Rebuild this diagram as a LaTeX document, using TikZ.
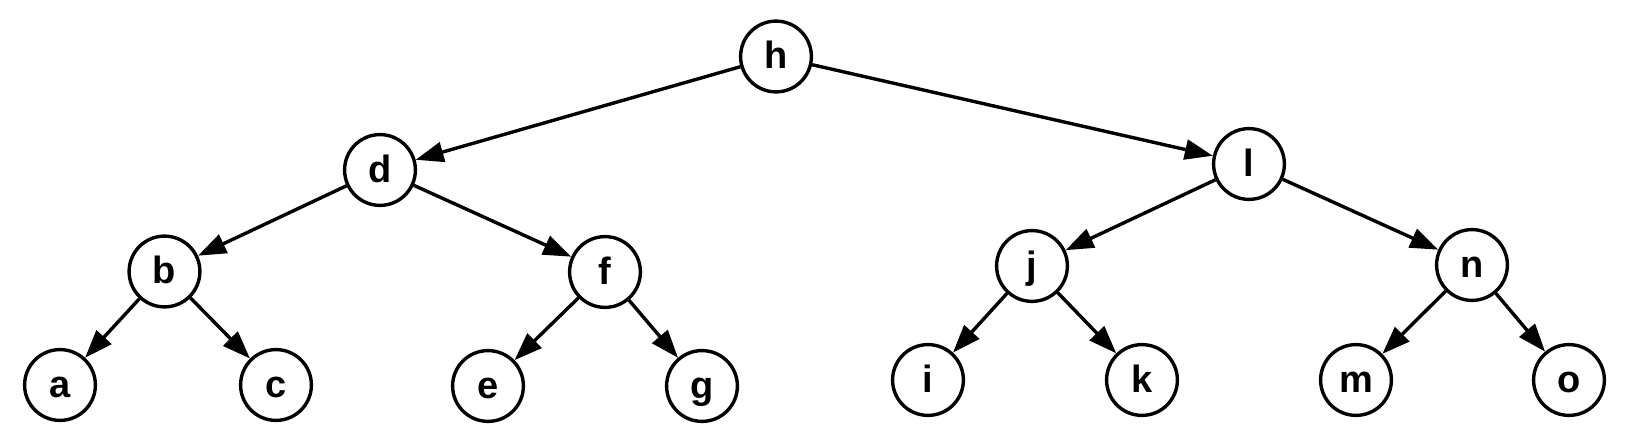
\documentclass[tikz,border=0pt]{standalone}
\usepackage{fontspec}
\setmainfont{Liberation Sans}
\usetikzlibrary{arrows.meta}
\tikzset{
	vert/.style={circle,draw,line width=1.7pt,minimum size=35.4pt,inner sep=0pt,
		text height=12.5pt,text depth=0pt,font=\fontsize{19}{19}\selectfont\bfseries},
	edge/.style={-{Triangle[length=14pt,width=10pt]},line width=1.7pt}
}
\begin{document}
\begin{tikzpicture}[x=0.5pt,y=-0.5pt]
	%%%%% START %%%%%
	\useasboundingbox (0,0) rectangle (1630,444);

	\node[vert] (h) at (776,56.5) {h};

	\node[vert] (d) at (380,170) {d};
	\node[vert] (l) at (1249,164) {l};

	\node[vert] (b) at (164.5,271.5) {b};
	\node[vert] (f) at (605,272) {f};
	\node[vert] (j) at (1032,266) {j};
	\node[vert] (n) at (1472,265) {n};

	\node[vert] (a) at (60,385) {a};
	\node[vert] (c) at (276,385) {c};
	\node[vert] (e) at (488,386) {e};
	\node[vert] (g) at (702,386) {g};
	\node[vert] (i) at (928,380) {i};
	\node[vert] (k) at (1142,380) {k};
	\node[vert] (m) at (1356,380) {m};
	\node[vert] (o) at (1569,380) {o};

	\foreach \src/\dst in {h/d,h/l,d/b,d/f,b/a,b/c,f/e,f/g,l/j,l/n,j/i,j/k,n/m,n/o}
		\draw[edge] (\src) -- (\dst);
	%%%%% END %%%%%
\end{tikzpicture}
\end{document}
